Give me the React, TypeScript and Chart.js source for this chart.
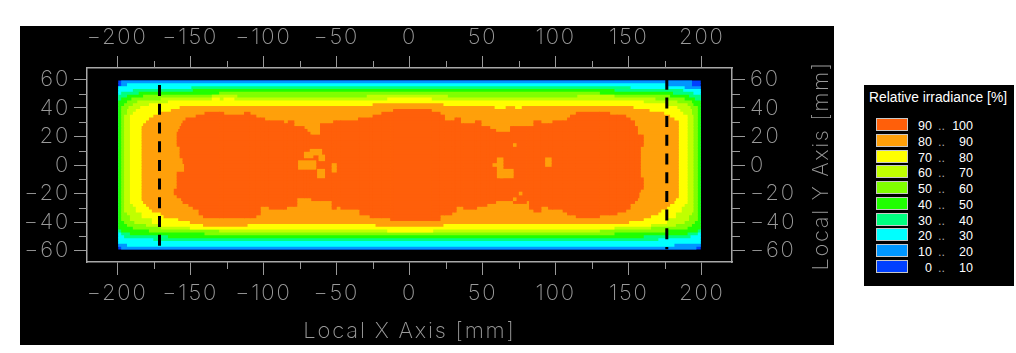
import React, { useEffect, useRef } from "react";
import { Chart, registerables } from "chart.js";

Chart.register(...registerables);

const xTicks = [-200, -150, -100, -50, 0, 50, 100, 150, 200];
const yTicks = [-60, -40, -20, 0, 20, 40, 60];
const xMinor = [-175, -125, -75, -25, 25, 75, 125, 175];
const yMinor = [-50, -30, -10, 10, 30, 50];
const bandLabels = ["90 .. 100", "80 .. 90", "70 .. 80", "60 .. 70", "50 .. 60", "40 .. 50", "30 .. 40", "20 .. 30", "10 .. 20", "0 .. 10"];
const bandColors = ["#ff5f0a", "#ffa00a", "#ffff00", "#c0ff00", "#80ff00", "#20ff00", "#00ff80", "#00ffff", "#0096ff", "#0040ff"];
const dashLeft = [[-171, 56], [-171, -57]];
const dashRight = [[176, 60.5], [176, -59]];

// each region: [top row, bottom row, left edge, right edge] in mm
const level0 = [[58, -58, -199, 199]];
const level10 = [[58, 56, -197, 193], [54, -56, -199, 199], [-58, -58, -197, 196]];
const level20 = [[56, 56, -193, 175], [54, 54, -199, 188], [52, -54, -199, 199], [-56, -56, -193, 181]];
const level30 = [[54, 54, -149, 151], [52, 52, -189, 187], [50, 50, -197, 194], [48, -46, -199, 199], [-48, -48, -197, 197], [-50, -50, -195, 192], [-52, -52, -175, 170]];
const level40 = [[52, 52, -148, 140], [50, 50, -185, 180], [48, 48, -193, 191], [46, 46, -197, 195], [44, -44, -199, 199], [-46, -46, -197, 197], [-48, -48, -191, 190], [-50, -50, -165, 160]];
const level50 = [[50, 50, -130, 130], [48, 48, -182, 178], [46, 46, -190, 188], [44, 44, -193, 193], [42, 42, -195, 194], [40, -38, -197, 197], [-40, -40, -195, 195], [-42, -42, -193, 193], [-44, -44, -189, 190], [-46, -46, -178, 175], [-48, -48, -140, 140]];
const level60 = [[48, 48, -135, -118], [48, 48, -29, 26], [48, 48, 115, 140], [46, 46, -170, 168], [44, 44, -186, 183], [42, 42, -189, 190], [40, 40, -192, 192], [38, 36, -193, 193], [34, -32, -195, 194], [-34, -34, -193, 193], [-36, -38, -191, 191], [-40, -40, -188, 188], [-42, -42, -180, 182], [-44, -44, -170, 165], [-46, -46, -130, 130]];
const level70 = [[46, 46, -135, -130], [46, 46, -127, -120], [46, 46, -15, 15], [44, 44, -165, 160], [42, 42, -178, 176], [40, 40, -184, 183], [38, 38, -187, 185], [36, 36, -189, 187], [34, -26, -191, 190], [-28, -28, -189, 188], [-30, -32, -187, 186], [-34, -36, -183, 182], [-38, -40, -176, 176], [-42, -42, -170, 165], [-44, -44, -150, 140], [-46, -46, -15, 16]];
const level80 = [[42, 42, -25, 23], [40, 40, -157, 58], [40, 40, 66, 72], [40, 40, 77, 153], [38, 38, -163, 164], [36, 36, -170, 174], [34, 34, -175, 178], [32, 32, -178, 181], [30, 30, -180, 184], [28, 28, -182, 184], [26, -22, -183, 184], [-24, -24, -183, 182], [-26, -26, -182, 181], [-28, -28, -180, 178], [-30, -30, -178, 176], [-32, -32, -176, 172], [-34, -34, -170, 170], [-36, -36, -168, 165], [-38, -38, -158, 160], [-40, -40, -150, 150], [-42, -42, -141, -111], [-42, -42, -23, 23]];
const level90 = [
  [36, 36, -140, -130], [34, 34, -146, -130], [32, 32, -153, -130], [30, 30, -155, -130], [28, 28, -156, -130], [26, 26, -157, -130], [24, 24, -158, -130], [22, 14, -159, -130], [12, 6, -157, -130], [4, 2, -155, -130], [0, -4, -154, -130], [-6, -16, -159, -130], [-18, -20, -161, -130], [-22, -22, -159, -130], [-24, -24, -156, -130], [-26, -26, -155, -130], [-28, -28, -151, -130], [-30, -30, -148, -130], [-32, -34, -144, -130], [-36, -36, -141, -130],
  [36, -36, -130, -127], [34, -36, -127, -113], [36, -36, -113, -109], [34, -36, -109, -105], [32, -34, -105, -102], [32, -28, -102, -99], [30, -28, -99, -96], [30, -30, -96, -86], [28, -30, -86, -84], [28, -28, -84, -83], [30, -28, -83, -79], [26, -28, -79, -77], [26, -22, -77, -72], [24, -22, -72, -70], [22, -22, -70, -68], [20, -22, -68, -67], [20, -24, -67, -61], [28, -24, -61, -53], [28, -30, -53, -52], [30, -30, -52, -50], [30, -28, -50, -47], [30, -30, -47, -35], [32, -30, -35, -34], [32, -34, -34, -27], [32, -36, -27, -25], [34, -36, -25, -19], [36, -36, -19, -13], [36, -38, -13, -11], [38, -38, -11, 15], [36, -38, 15, 21], [34, -34, 21, 24], [30, -34, 24, 29], [30, -32, 29, 31], [32, -32, 31, 32], [32, -28, 32, 35], [28, -28, 35, 37], [28, -30, 37, 45], [30, -30, 45, 46], [30, -28, 46, 49], [26, -28, 49, 53], [26, -26, 53, 55], [24, -26, 55, 59], [22, -24, 59, 69], [26, -24, 69, 71], [26, -26, 71, 80], [26, -24, 80, 82], [26, -30, 82, 85], [30, -32, 85, 90], [28, -28, 90, 95], [28, -30, 95, 98], [30, -30, 98, 105], [30, -32, 105, 108], [32, -34, 108, 110], [34, -34, 110, 114], [36, -36, 114, 130], [36, -34, 130, 137], [34, -34, 137, 142], [34, -32, 142, 148], [32, -30, 148, 151], [30, -26, 151, 154], [26, -24, 154, 156], [20, -22, 156, 157], [20, -18, 157, 158], [20, 14, 158, 160], [-10, -16, 158, 160],
];
const spots80 = [[10, 8, -68, -60], [8, 6, -72, -66], [6, 4, -62, -58], [2, -2, -76, -64], [0, -4, -53, -50], [-4, -8, -63, -58], [14, 14, 71, 73], [4, 0, 60, 64], [0, 0, 57, 60], [-2, -8, 60, 64], [-4, -8, 62, 71], [4, 0, 93, 97], [-20, -20, 75, 77], [-24, -24, 71, 73]];

const regions = [spots80, level90, level80, level70, level60, level50, level40, level30, level20, level10, level0];
const regionColors = [bandColors[1], ...bandColors];

function rowsOf(rects: number[][]) {
  const out: { x: number[]; y: number }[] = [];
  for (const [top, bottom, left, right] of rects) {
    for (let y = top; y >= bottom; y -= 2) out.push({ x: [left, right], y });
  }
  return out;
}

const GREY = "#9a9a9a";
const LABEL_FONT = { family: "Inter, 'DejaVu Sans', sans-serif", size: 22, weight: "200" as any };

const minorTicks = {
  id: "minorTicks",
  beforeDraw(chart: any) {
    chart.ctx.letterSpacing = "1.8px";
  },
  afterDraw(chart: any) {
    const { ctx, scales, chartArea: a } = chart;
    ctx.save();
    ctx.strokeStyle = GREY;
    ctx.lineWidth = 1;
    ctx.beginPath();
    for (const v of xMinor) {
      const p = Math.round(scales.x.getPixelForValue(v)) + 0.5;
      ctx.moveTo(p, a.top - 7); ctx.lineTo(p, a.top);
      ctx.moveTo(p, a.bottom); ctx.lineTo(p, a.bottom + 7);
    }
    for (const v of yMinor) {
      const p = Math.round(scales.y.getPixelForValue(v)) + 0.5;
      ctx.moveTo(a.left - 8, p); ctx.lineTo(a.left, p);
      ctx.moveTo(a.right, p); ctx.lineTo(a.right + 8, p);
    }
    ctx.stroke();
    ctx.fillStyle = GREY;
    ctx.font = "200 22px Inter, 'DejaVu Sans', sans-serif";
    ctx.textAlign = "center";
    ctx.textBaseline = "middle";
    ctx.translate(821, 166);
    ctx.rotate(-Math.PI / 2);
    ctx.letterSpacing = "1.6px";
    ctx.fillText("Local Y Axis [mm]", 0, 0);
    ctx.restore();
  },
};

const fixedTicks = (values: number[]) => (s: any) => { s.ticks = values.map((value) => ({ value })); };
const fixSize = (dim: "width" | "height", size: number) => (s: any) => { s[dim] = size; };
const minusLabel = (v: any) => (Number(v) < 0 ? "\u2212" + Math.abs(Number(v)) : String(v));

function axis(position: string, min: number, max: number, values: number[], dim: "width" | "height", size: number, tickLength: number, padding: number) {
  return {
    type: "linear",
    position,
    min,
    max,
    offset: false,
    afterBuildTicks: fixedTicks(values),
    afterFit: fixSize(dim, size),
    grid: { drawOnChartArea: false, drawTicks: true, tickLength, tickColor: GREY, tickWidth: 1, offset: false },
    border: { display: true, color: "#a8a8a8", width: 1.5 },
    ticks: { autoSkip: false, maxRotation: 0, minRotation: 0, color: GREY, font: LABEL_FONT, padding, callback: minusLabel },
  };
}

export default function App() {
  const ref = useRef<HTMLCanvasElement>(null);
  useEffect(() => {
    const datasets: any[] = regions.map((rects, i) => ({
      type: "bar",
      label: "level " + i,
      data: rowsOf(rects),
      backgroundColor: regionColors[i],
      barThickness: 3,
      order: i + 2,
      xAxisID: "x",
      yAxisID: "y",
    }));
    for (const pts of [dashLeft, dashRight]) {
      datasets.push({
        type: "line",
        data: pts.map(([x, y]) => ({ x, y })),
        borderColor: "#000",
        borderWidth: 3,
        borderDash: [11, 7.7],
        pointRadius: 0,
        order: 0,
        xAxisID: "x",
        yAxisID: "y",
      });
    }
    const xBottom: any = axis("bottom", -220.6, 220.6, xTicks, "height", 91, 13, 5);
    xBottom.title = { display: true, text: "Local X Axis [mm]", color: GREY, font: { ...LABEL_FONT, size: 22 }, padding: { top: 0, bottom: 8 } };
    const chart = new Chart(ref.current!, {
      type: "bar",
      data: { datasets },
      plugins: [minorTicks],
      options: {
        animation: false,
        responsive: false,
        indexAxis: "y",
        datasets: { bar: { grouped: false } },
        layout: { padding: 0 },
        plugins: { legend: { display: false }, tooltip: { enabled: false } },
        scales: {
          x: xBottom,
          x2: axis("top", -220.6, 220.6, xTicks, "height", 68, 12, 5),
          y: axis("left", -68, 68, yTicks, "width", 87, 13, 4),
          y2: axis("right", -68, 68, yTicks, "width", 284, 13, 5),
        },
      } as any,
    } as any);
    return () => chart.destroy();
  }, []);

  return (
    <div>
      <div style={{ position: "absolute", left: 20, top: 26, width: 814, height: 319, background: "#000" }} />
      <canvas ref={ref} width={1016} height={353} style={{ position: "absolute", left: 0, top: 0, width: 1016, height: 353 }} />
      <div style={{ position: "absolute", left: 864, top: 85, width: 150, height: 201, background: "#000", color: "#fff", fontFamily: "'Liberation Sans', Arial, sans-serif", fontSize: 12.5 }}>
        <div style={{ position: "absolute", left: 5, top: 5, whiteSpace: "nowrap", fontSize: 13.8 }}>Relative irradiance [%]</div>
        {bandLabels.map((label, i) => {
          const [lo, , hi] = label.split(" ");
          return (
            <div key={label} style={{ position: "absolute", left: 0, top: 33 + i * 15.75, width: 150, height: 13, lineHeight: "13px" }}>
              <div style={{ position: "absolute", left: 12, top: 0, width: 30, height: 11, background: bandColors[i], border: "1px solid #c8c8c8" }} />
              <span style={{ position: "absolute", left: 48, top: 2, width: 20, textAlign: "right" }}>{lo}</span>
              <span style={{ position: "absolute", left: 74, top: 2, color: "#aaa" }}>..</span>
              <span style={{ position: "absolute", left: 84, top: 2, width: 25, textAlign: "right" }}>{hi}</span>
            </div>
          );
        })}
      </div>
    </div>
  );
}
